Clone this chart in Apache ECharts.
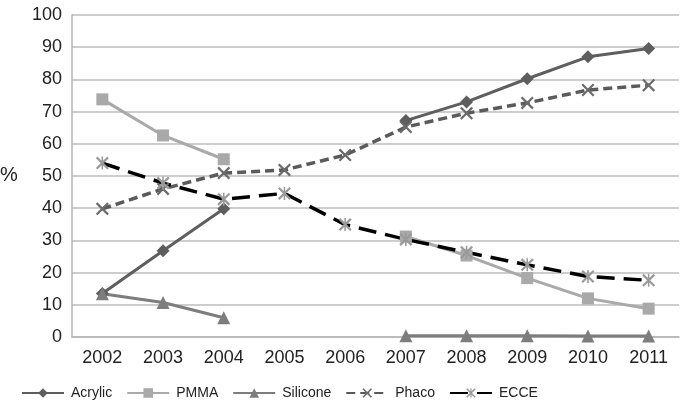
<!DOCTYPE html>
<html><head><meta charset="utf-8">
<script src="https://cdn.jsdelivr.net/npm/echarts@6/dist/echarts.min.js"></script>
<style>html,body{margin:0;padding:0;background:#fff}#c{width:682px;height:410px}</style>
</head><body><div id="c"></div>
<script>
const years = ['2002','2003','2004','2005','2006','2007','2008','2009','2010','2011'];
const acrylic = [13.5, 26.8, 39.8, null, null, 67.2, 73, 80.2, 87, 89.6];
const pmma = [73.8, 62.6, 55.2, null, null, 31.2, 25.3, 18.3, 12, 8.8];
const silicone = [13.4, 10.7, 6, null, null, 0.4, 0.4, 0.4, 0.3, 0.3];
const phaco = [39.8, 46, 50.9, 51.9, 56.5, 65.2, 69.5, 72.7, 76.7, 78.2];
const ecce = [54, 47.8, 42.8, 44.6, 34.9, 30.3, 26.3, 22.4, 18.8, 17.6];

const xPath = 'path://M0,1.2L1.2,0L10,8.8L8.8,10ZM8.8,0L10,1.2L1.2,10L0,8.8Z';
const starPath = 'path://M0,1.2L1.2,0L10,8.8L8.8,10ZM8.8,0L10,1.2L1.2,10L0,8.8ZM4.4,0L5.6,0L5.6,10L4.4,10Z';
const font = 'Liberation Sans, Arial, sans-serif';

const chart = echarts.init(document.getElementById('c'), null, {renderer:'canvas'});
chart.setOption({
  animation: false,
  textStyle: {fontFamily: font},
  grid: {left: 72, right: 3, top: 15, bottom: 73},
  xAxis: {
    type: 'category', data: years, boundaryGap: true,
    axisLine: {lineStyle: {color: '#b5b5b5', width: 1.5}},
    axisTick: {show: false},
    axisLabel: {color: '#222', fontSize: 18, margin: 12, fontFamily: font}
  },
  yAxis: {
    type: 'value', min: 0, max: 100, interval: 10,
    axisLine: {show: true, lineStyle: {color: '#b5b5b5', width: 1.5}},
    axisTick: {show: false},
    splitLine: {lineStyle: {color: '#bdbdbd', width: 1.5}},
    axisLabel: {color: '#222', fontSize: 18, margin: 10, fontFamily: font}
  },
  graphic: [{type: 'text', left: 0, top: 165, style: {text: '%', fontSize: 20, fill: '#222', fontFamily: font}}],
  legend: {
    bottom: 5, left: 16, itemWidth: 42, itemHeight: 12, itemGap: 14,
    textStyle: {color: '#222', fontSize: 14, fontFamily: font, padding: [0, 0, 0, 2]},
    data: ['Acrylic','PMMA','Silicone','Phaco','ECCE']
  },
  series: [
    {name: 'Acrylic', type: 'line', data: acrylic, symbol: 'diamond', symbolSize: 13,
     lineStyle: {color: '#5e5e5e', width: 3}, itemStyle: {color: '#5e5e5e'}},
    {name: 'PMMA', type: 'line', data: pmma, symbol: 'rect', symbolSize: 12,
     lineStyle: {color: '#a9a9a9', width: 3}, itemStyle: {color: '#a9a9a9'}},
    {name: 'Silicone', type: 'line', data: silicone, symbol: 'triangle', symbolSize: 13,
     lineStyle: {color: '#7d7d7d', width: 3}, itemStyle: {color: '#7d7d7d'}},
    {name: 'Phaco', type: 'line', data: phaco, symbol: xPath, symbolSize: 13,
     lineStyle: {color: '#5a5a5a', width: 3.5, type: [9, 5]}, itemStyle: {color: '#6a6a6a'}},
    {name: 'ECCE', type: 'line', data: ecce, symbol: starPath, symbolSize: 13,
     lineStyle: {color: '#000', width: 3.5, type: [18, 9]}, itemStyle: {color: '#9a9a9a'}}
  ]
});
</script></body></html>
